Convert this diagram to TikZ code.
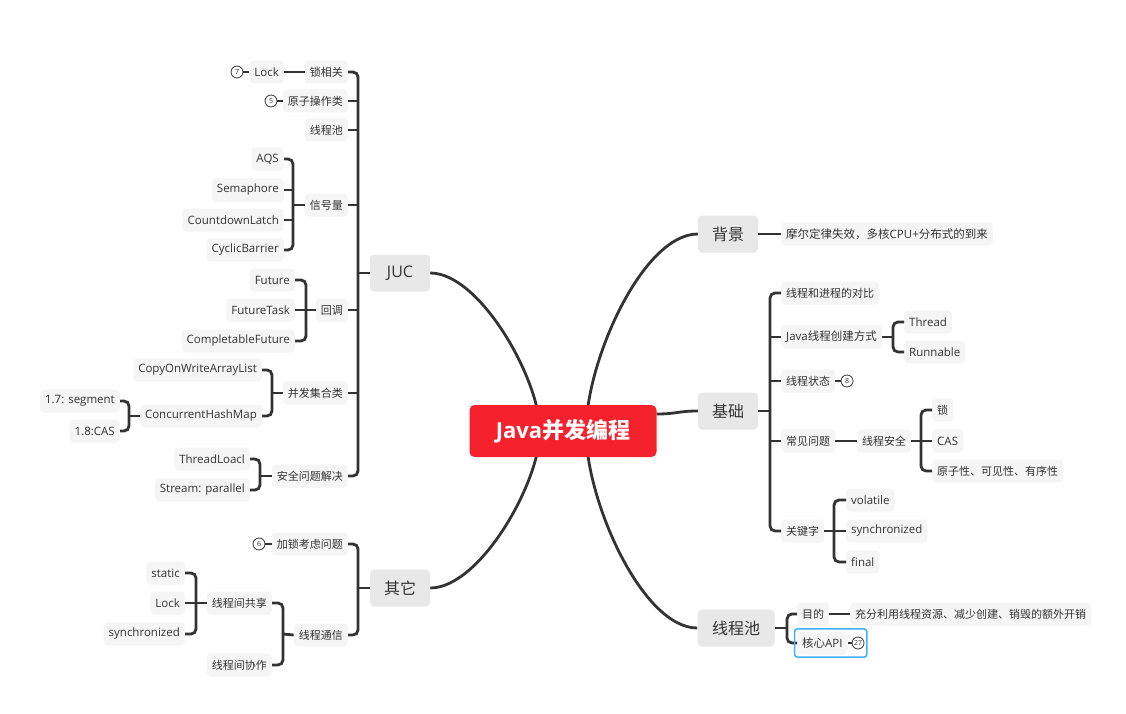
\documentclass[tikz,border=0pt]{standalone}
\usepackage{fontspec}
\setmainfont{Open Sans}
\newfontfamily\cjk{Noto Sans CJK SC}
\usetikzlibrary{backgrounds,fit}
\definecolor{lc}{HTML}{333333}
\definecolor{txt}{HTML}{333333}
\definecolor{mainfill}{HTML}{E8E8E8}
\definecolor{subfill}{HTML}{F5F5F5}
\definecolor{rootred}{HTML}{F5222D}
\definecolor{hl}{HTML}{3DB2F5}
\tikzset{
  sub/.style={fill=subfill, rounded corners=4pt, inner xsep=5pt, inner ysep=0pt, minimum height=23pt, text=txt, font=\fontsize{11.5}{13}\selectfont},
  L/.style={sub, anchor=east},
  R/.style={sub, anchor=west},
  cn/.style={font=\fontsize{11}{13}\selectfont\cjk},
  mainbox/.style={fill=mainfill, rounded corners=4pt, minimum width=60pt, minimum height=37pt, inner xsep=8pt, text=txt, font=\fontsize{16}{19}\selectfont},
  cnm/.style={font=\fontsize{16}{19}\selectfont\cjk},
  rootbox/.style={fill=rootred, rounded corners=5pt, minimum width=187pt, minimum height=52pt, text=white, font=\fontsize{22}{26}\selectfont\bfseries},
  conn/.style={draw=lc, line width=2.8pt, rounded corners=5pt},
  link/.style={draw=lc, line width=2.8pt},
  curve/.style={draw=lc, line width=2.8pt},
  num/.style={circle, draw=lc, line width=0.8pt, minimum size=12pt, inner sep=0pt, fill=white, text=txt, font=\fontsize{7}{7}\selectfont},
  hlbox/.style={draw=hl, line width=1.5pt, rounded corners=3pt, inner sep=2.5pt},
}
\begin{document}
\begin{tikzpicture}[x=1pt,y=-1pt]
\useasboundingbox (0,0) rectangle (1126,714);

% root and main branches
\node[rootbox] (root) at (563,431) {Java{\cjk\bfseries 并发编程}};
\node[mainbox] (juc) at (400,273) {JUC};
\node[mainbox,cnm] (qt) at (400,588) {其它};
\node[mainbox,cnm] (bj) at (728,234) {背景};
\node[mainbox,cnm] (jc) at (728,411) {基础};
\node[mainbox,cnm,minimum width=77pt] (xcc) at (736,628) {线程池};

% JUC children
\node[L,cn] (suo) at (348,72) {锁相关};
\node[L] (lock1) at (284,72) {Lock};
\node[num] (n7) at (237,72) {7};
\node[L,cn] (yz) at (348,101) {原子操作类};
\node[num] (n5) at (271,101) {5};
\node[L,cn] (jxc) at (348,130) {线程池};
\node[L,cn] (xhl) at (348,205) {信号量};
\node[L] (aqs) at (284,159) {AQS};
\node[L] (sem) at (284,190) {Semaphore};
\node[L] (cdl) at (284,220) {CountdownLatch};
\node[L] (cb) at (284,250) {CyclicBarrier};
\node[L,cn] (hd) at (348,310) {回调};
\node[L] (fu) at (295,280) {Future};
\node[L] (ft) at (295,310) {FutureTask};
\node[L] (cf) at (295,341) {CompletableFuture};
\node[L,cn] (bf) at (348,393) {并发集合类};
\node[L] (cow) at (262,370) {CopyOnWriteArrayList};
\node[L] (chm) at (262,416) {ConcurrentHashMap};
\node[L] (v17) at (120,401) {1.7: segment};
\node[L] (v18) at (120,431) {1.8:CAS};
\node[L,cn] (aq) at (348,476) {安全问题解决};
\node[L] (tl) at (250,459) {ThreadLoacl};
\node[L] (sp) at (250,490) {Stream: parallel};

\coordinate (bJ) at (358,273);
\coordinate (bX) at (293,205);
\coordinate (bH) at (306,310);
\coordinate (bB) at (272,393);
\coordinate (bC) at (129,416);
\coordinate (bA) at (260,476);

\draw[conn] (suo.east) -| (bJ) |- (aq.east);
\foreach \n in {yz,jxc,xhl,hd,bf} \draw[link] (\n.east) -- (\n.east -| bJ);
\draw[link] (bJ) -- (juc.west);
\draw[link] (lock1.east) -- (suo.west);
\draw[link] (n7.east) -- (lock1.west);
\draw[link] (n5.east) -- (yz.west);
\draw[conn] (aqs.east) -| (bX) |- (cb.east);
\foreach \n in {sem,cdl} \draw[link] (\n.east) -- (\n.east -| bX);
\draw[link] (bX) -- (xhl.west);
\draw[conn] (fu.east) -| (bH) |- (cf.east);
\draw[link] (ft.east) -- (bH) -- (hd.west);
\draw[conn] (cow.east) -| (bB) |- (chm.east);
\draw[link] (bB) -- (bf.west);
\draw[conn] (v17.east) -| (bC) |- (v18.east);
\draw[link] (bC) -- (chm.west);
\draw[conn] (tl.east) -| (bA) |- (sp.east);
\draw[link] (bA) -- (aq.west);

% 其它 children
\node[L,cn] (jsk) at (348,544) {加锁考虑问题};
\node[num] (n6) at (259,544) {6};
\node[L,cn] (xctx) at (348,635) {线程通信};
\node[L,cn] (gx) at (272,603) {线程间共享};
\node[L,cn] (xz) at (272,665) {线程间协作};
\node[L] (st) at (185,573) {static};
\node[L] (lock2) at (185,603) {Lock};
\node[L] (sy1) at (185,634) {synchronized};
\coordinate (bQ) at (358,588);
\coordinate (bT) at (283,634);
\coordinate (bG) at (196,603);
\draw[conn] (jsk.east) -| (bQ) |- (xctx.east);
\draw[link] (bQ) -- (qt.west);
\draw[link] (n6.east) -- (jsk.west);
\draw[conn] (gx.east) -| (bT) |- (xz.east);
\draw[link] (bT) -- (xctx.west);
\draw[conn] (st.east) -| (bG) |- (sy1.east);
\draw[link] (lock2.east) -- (bG) -- (gx.west);

% 背景
\node[R] (mr) at (781,234) {{\cjk 摩尔定律失效，多核}CPU+{\cjk 分布式的到来}};
\draw[link] (bj.east) -- (mr.west);

% 基础
\coordinate (bJC) at (770,411);
\node[R,cn] (db) at (781,293) {线程和进程的对比};
\node[R] (cj) at (781,337) {Java{\cjk 线程创建方式}};
\node[R] (th) at (904,322) {Thread};
\node[R] (rn) at (904,352) {Runnable};
\coordinate (bCJ) at (893,337);
\node[R,cn] (zt) at (781,381) {线程状态};
\node[num] (n8) at (847,381) {8};
\node[R,cn] (cw) at (781,441) {常见问题};
\node[R,cn] (aqx) at (857,441) {线程安全};
\node[R,cn] (suo2) at (932,410) {锁};
\node[R] (cas) at (932,441) {CAS};
\node[R,cn] (yzx) at (932,471) {原子性、可见性、有序性};
\coordinate (bAQ) at (921,441);
\node[R,cn] (gjz) at (781,531) {关键字};
\node[R] (vol) at (846,500) {volatile};
\node[R] (sy2) at (846,531) {synchronized};
\node[R] (fin) at (846,562) {final};
\coordinate (bGJ) at (834,531);

\draw[conn] (db.west) -| (bJC) |- (gjz.west);
\foreach \n in {cj,zt,cw} \draw[link] (\n.west) -- (\n.west -| bJC);
\draw[link] (jc.east) -- (bJC);
\draw[conn] (th.west) -| (bCJ) |- (rn.west);
\draw[link] (cj.east) -- (bCJ);
\draw[link] (zt.east) -- (n8.west);
\draw[link] (cw.east) -- (aqx.west);
\draw[conn] (suo2.west) -| (bAQ) |- (yzx.west);
\draw[link] (aqx.east) -- (bAQ) -- (cas.west);
\draw[conn] (vol.west) -| (bGJ) |- (fin.west);
\draw[link] (gjz.east) -- (bGJ) -- (sy2.west);

% 线程池
\node[R,cn] (md) at (797,614) {目的};
\node[R,cn] (cf2) at (850,614) {充分利用线程资源、减少创建、销毁的额外开销};
\node[R] (api) at (797,643) {{\cjk 核心}API};
\node[num] (n27) at (858,643) {27};
\coordinate (bXC) at (787,628);
\draw[conn] (md.west) -| (bXC) |- (api.west);
\draw[link] (xcc.east) -- (bXC);
\draw[link] (md.east) -- (cf2.west);
\draw[link] (api.east) -- (n27.west);
\node[hlbox, fit=(api)(n27)] (hlk) {};

% curves from root
\begin{scope}[on background layer]
\fill[white] (0,0) rectangle (1126,714);
\draw[curve] (juc.east) .. controls +(50,0) and +(0,-51) .. ([xshift=-23pt]root.center);
\draw[curve] (qt.east) .. controls +(50,0) and +(0,51) .. ([xshift=-23pt]root.center);
\draw[curve] (bj.west) .. controls +(-55,0) and +(0,-70) .. ([xshift=23pt]root.center);
\draw[curve] (xcc.west) .. controls +(-55,0) and +(0,70) .. ([xshift=23pt]root.center);
\draw[curve] ([yshift=17pt]root.east) .. controls +(20,0) and +(-20,0) .. (jc.west);
\end{scope}
\end{tikzpicture}
\end{document}
